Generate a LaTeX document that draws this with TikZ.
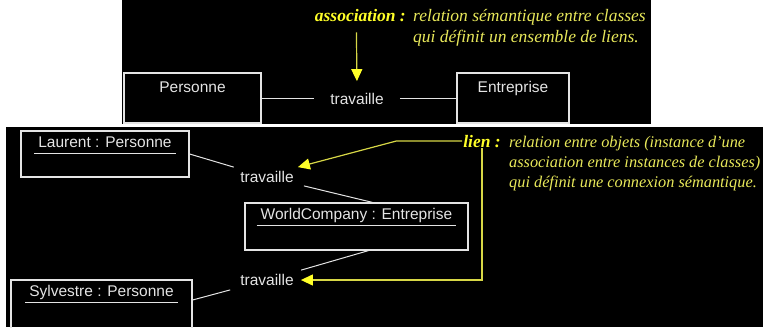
\documentclass[tikz,border=0pt]{standalone}
\usepackage{fontspec}
\setmainfont{Liberation Serif}
\newfontfamily\umlfont{Liberation Sans}
\usetikzlibrary{arrows.meta}
\definecolor{noteyellow}{RGB}{232,232,90}
\definecolor{keyyellow}{RGB}{255,255,40}
\definecolor{pointeryellow}{RGB}{215,215,70}
\definecolor{boxgray}{RGB}{228,228,228}
\tikzset{
	classbox/.style={draw=boxgray, line width=1.2pt, minimum height=50pt, inner sep=0pt},
	objname/.style={font=\umlfont\fontsize{15.5}{18}\selectfont, text=boxgray, text height=11.5pt, text depth=4pt, inner xsep=4pt, inner ysep=2pt, anchor=north},
	underl/.style={draw=boxgray, line width=1pt},
	assoc/.style={font=\umlfont\fontsize{15.5}{18}\selectfont, text=boxgray, inner xsep=10pt, inner ysep=4pt},
	link/.style={draw=boxgray, line width=1pt},
	pointer/.style={draw=pointeryellow, line width=1.2pt, -{Triangle[width=11pt,length=12pt,color=keyyellow]}},
	keyword/.style={font=\fontsize{17.5}{21}\selectfont\bfseries\itshape, text=keyyellow, anchor=base east, inner sep=1pt},
	note/.style={font=\fontsize{17.5}{21}\selectfont\itshape, text=noteyellow, align=left, anchor=base west, inner sep=1pt}
}
\begin{document}
\begin{tikzpicture}[x=1pt,y=-1pt]
	\useasboundingbox (0,0) rectangle (763,327);
	\fill[white] (0,0) rectangle (763,327);
	\fill[black] (122,0) rectangle (651,124);
	\fill[black] (6,127) rectangle (763,327);
	
	\node[classbox, minimum width=137pt] (pers) at (192.5,98) {};
	\node[objname] at ([yshift=-6pt]pers.north) {Personne};
	\node[assoc, inner xsep=16pt] (travA) at (357,99) {travaille};
	\node[classbox, minimum width=112pt] (entr) at (513,98) {};
	\node[objname] at ([yshift=-6pt]entr.north) {Entreprise};
	\draw[link] (pers.east) -- (pers.east -| travA.west);
	\draw[link] (entr.west -| travA.east) -- (entr.west);
	
	\node[keyword] (assocKey) at (407,21) {association :};
	\node[note] (assocNote) at (412,42) {relation sémantique entre classes\\ qui définit un ensemble de liens.};
	\draw[pointer, shorten <=10pt, shorten >=8pt] ([xshift=-4pt]assocKey.south) -- (travA.north);
	
	\node[classbox, minimum width=168pt, minimum height=46pt] (laurent) at (105,154) {};
	\node[objname] (laurentName) at ([yshift=-3pt]laurent.north) {Laurent : Personne};
	\draw[underl] (laurentName.south west) -- (laurentName.south east);
	
	\node[assoc] (travB) at (267,177) {travaille};
	
	\node[classbox, minimum width=223pt, minimum height=47pt] (world) at (356.5,226.5) {};
	\node[objname] (worldName) at ([yshift=-3pt]world.north) {WorldCompany : Entreprise};
	\draw[underl] (worldName.south west) -- (worldName.south east);
	
	\node[assoc] (travC) at (267,280) {travaille};
	
	\node[classbox, minimum width=181pt, minimum height=52pt] (sylv) at (101.5,306) {};
	\node[objname] (sylvName) at ([yshift=-3pt]sylv.north) {Sylvestre : Personne};
	\draw[underl] (sylvName.south west) -- (sylvName.south east);
	
	\draw[link] (laurent.east) -- (travB);
	\draw[link] (travB) -- ([xshift=16pt]world.north);
	\draw[link] ([xshift=12pt]world.south) -- (travC);
	\draw[link] ([yshift=6pt]sylv.east) -- (travC);
	
	\node[keyword] (lienKey) at (502,147) {lien :};
	\node[note, font=\fontsize{16.3}{20}\selectfont\itshape] (lienNote) at (508,187) {relation entre objets (instance d'une\\ association entre instances de classes)\\ qui définit une connexion sémantique.};
	\draw[pointer] (lienKey.west) -- ++(-66,0) -- ([xshift=-6pt]travB.north east);
	\draw[pointer, shorten >=-3pt] (lienKey.south) |- (travC.east);
\end{tikzpicture}
\end{document}
